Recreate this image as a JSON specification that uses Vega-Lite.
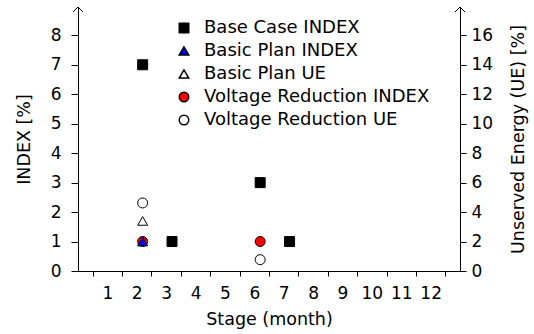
{
  "$schema": "https://vega.github.io/schema/vega-lite/v6.json",
  "autosize": {"type": "none"},
  "width": 382,
  "height": 264,
  "padding": {"left": 78, "top": 7, "right": 74, "bottom": 63},
  "background": "white",
  "config": {
    "view": {"stroke": null},
    "font": "DejaVu Sans",
    "axis": {"labelFont": "DejaVu Sans", "titleFont": "DejaVu Sans", "labelFontSize": 17, "titleFontSize": 17.5, "titleFontWeight": "normal", "labelColor": "black", "titleColor": "black", "domainColor": "black", "tickColor": "black", "grid": false, "labelOverlap": false},
    "legend": {"labelFont": "DejaVu Sans", "labelFontSize": 18, "labelColor": "black", "labelLimit": 400}
  },
  "data": {"values": [
    {"stage": 2.2, "value": 7, "series": "Base Case INDEX", "measure": "INDEX"},
    {"stage": 3.2, "value": 1, "series": "Base Case INDEX", "measure": "INDEX"},
    {"stage": 6.2, "value": 3, "series": "Base Case INDEX", "measure": "INDEX"},
    {"stage": 7.2, "value": 1, "series": "Base Case INDEX", "measure": "INDEX"},
    {"stage": 2.2, "value": 1, "series": "Voltage Reduction INDEX", "measure": "INDEX"},
    {"stage": 6.2, "value": 1, "series": "Voltage Reduction INDEX", "measure": "INDEX"},
    {"stage": 2.2, "value": 1, "series": "Basic Plan INDEX", "measure": "INDEX"},
    {"stage": 2.2, "value": 3.4, "series": "Basic Plan UE", "measure": "UE"},
    {"stage": 2.2, "value": 4.62, "series": "Voltage Reduction UE", "measure": "UE"},
    {"stage": 6.2, "value": 0.77, "series": "Voltage Reduction UE", "measure": "UE"}
  ]},
  "layer": [
    {
      "transform": [{"filter": "datum.measure === 'INDEX'"}],
      "mark": {"type": "point", "stroke": "black", "strokeWidth": 1, "opacity": 1, "size": 100},
      "encoding": {
        "x": {"field": "stage", "type": "quantitative", "scale": {"domain": [0, 13], "nice": false, "zero": false},
          "axis": {"title": "Stage (month)", "values": [0.5, 1.5, 2.5, 3.5, 4.5, 5.5, 6.5, 7.5, 8.5, 9.5, 10.5, 11.5, 12.5], "tickCount": 30,
            "labelExpr": "datum.value < 12 ? format(datum.value + 0.5, 'd') : ''", "labelOffset": 14.7,
            "tickSize": 5, "labelPadding": 9, "titlePadding": 9, "labelFlush": false}},
        "y": {"field": "value", "type": "quantitative", "scale": {"domain": [0, 8.96], "nice": false},
          "axis": {"title": "INDEX [%]", "values": [0, 1, 2, 3, 4, 5, 6, 7, 8], "tickCount": 30, "format": "d", "tickSize": 7, "labelPadding": 10, "titlePadding": 17, "labelFlush": false}},
        "shape": {"field": "series", "type": "nominal",
          "scale": {"domain": ["Base Case INDEX", "Basic Plan INDEX", "Basic Plan UE", "Voltage Reduction INDEX", "Voltage Reduction UE"],
            "range": ["square", "triangle-up", "triangle-up", "circle", "circle"]},
          "legend": {"title": null, "orient": "none", "legendX": 97, "legendY": 12, "padding": 0, "symbolSize": 90, "rowPadding": 5, "labelOffset": 11,
            "encode": {"symbols": {"update": {"stroke": {"value": "black"}, "strokeWidth": {"value": 1}}}}}},
        "fill": {"field": "series", "type": "nominal",
          "scale": {"domain": ["Base Case INDEX", "Basic Plan INDEX", "Basic Plan UE", "Voltage Reduction INDEX", "Voltage Reduction UE"],
            "range": ["black", "blue", "white", "red", "white"]},
          "legend": {"title": null, "orient": "none", "legendX": 97, "legendY": 12, "padding": 0, "symbolSize": 90, "rowPadding": 5, "labelOffset": 11,
            "encode": {"symbols": {"update": {"stroke": {"value": "black"}, "strokeWidth": {"value": 1}}}}}}
      }
    },
    {
      "transform": [{"filter": "datum.measure === 'UE'"}],
      "mark": {"type": "point", "stroke": "black", "strokeWidth": 1, "opacity": 1, "size": 100},
      "encoding": {
        "x": {"field": "stage", "type": "quantitative"},
        "y": {"field": "value", "type": "quantitative", "scale": {"domain": [0, 17.92], "nice": false},
          "axis": {"title": "Unserved Energy (UE) [%]", "orient": "right", "values": [0, 2, 4, 6, 8, 10, 12, 14, 16], "tickCount": 30, "format": "d", "tickSize": 6, "labelPadding": 5, "titlePadding": 17, "titleAngle": -90, "titleBaseline": "top", "labelFlush": false}},
        "shape": {"field": "series", "type": "nominal", "legend": null},
        "fill": {"field": "series", "type": "nominal", "legend": null}
      }
    },
    {
      "mark": {"type": "point", "shape": "M-1,1L0,0L1,1", "filled": false, "stroke": "black", "strokeWidth": 1, "size": 100, "opacity": 1},
      "encoding": {"x": {"datum": 0, "type": "quantitative"}, "y": {"datum": 8.96, "type": "quantitative", "scale": {"domain": [0, 8.96], "nice": false}, "axis": null}}
    },
    {
      "mark": {"type": "point", "shape": "M-1,1L0,0L1,1", "filled": false, "stroke": "black", "strokeWidth": 1, "size": 100, "opacity": 1},
      "encoding": {"x": {"datum": 13, "type": "quantitative"}, "y": {"datum": 8.96, "type": "quantitative", "scale": {"domain": [0, 8.96], "nice": false}, "axis": null}}
    }
  ],
  "resolve": {"scale": {"y": "independent"}}
}
